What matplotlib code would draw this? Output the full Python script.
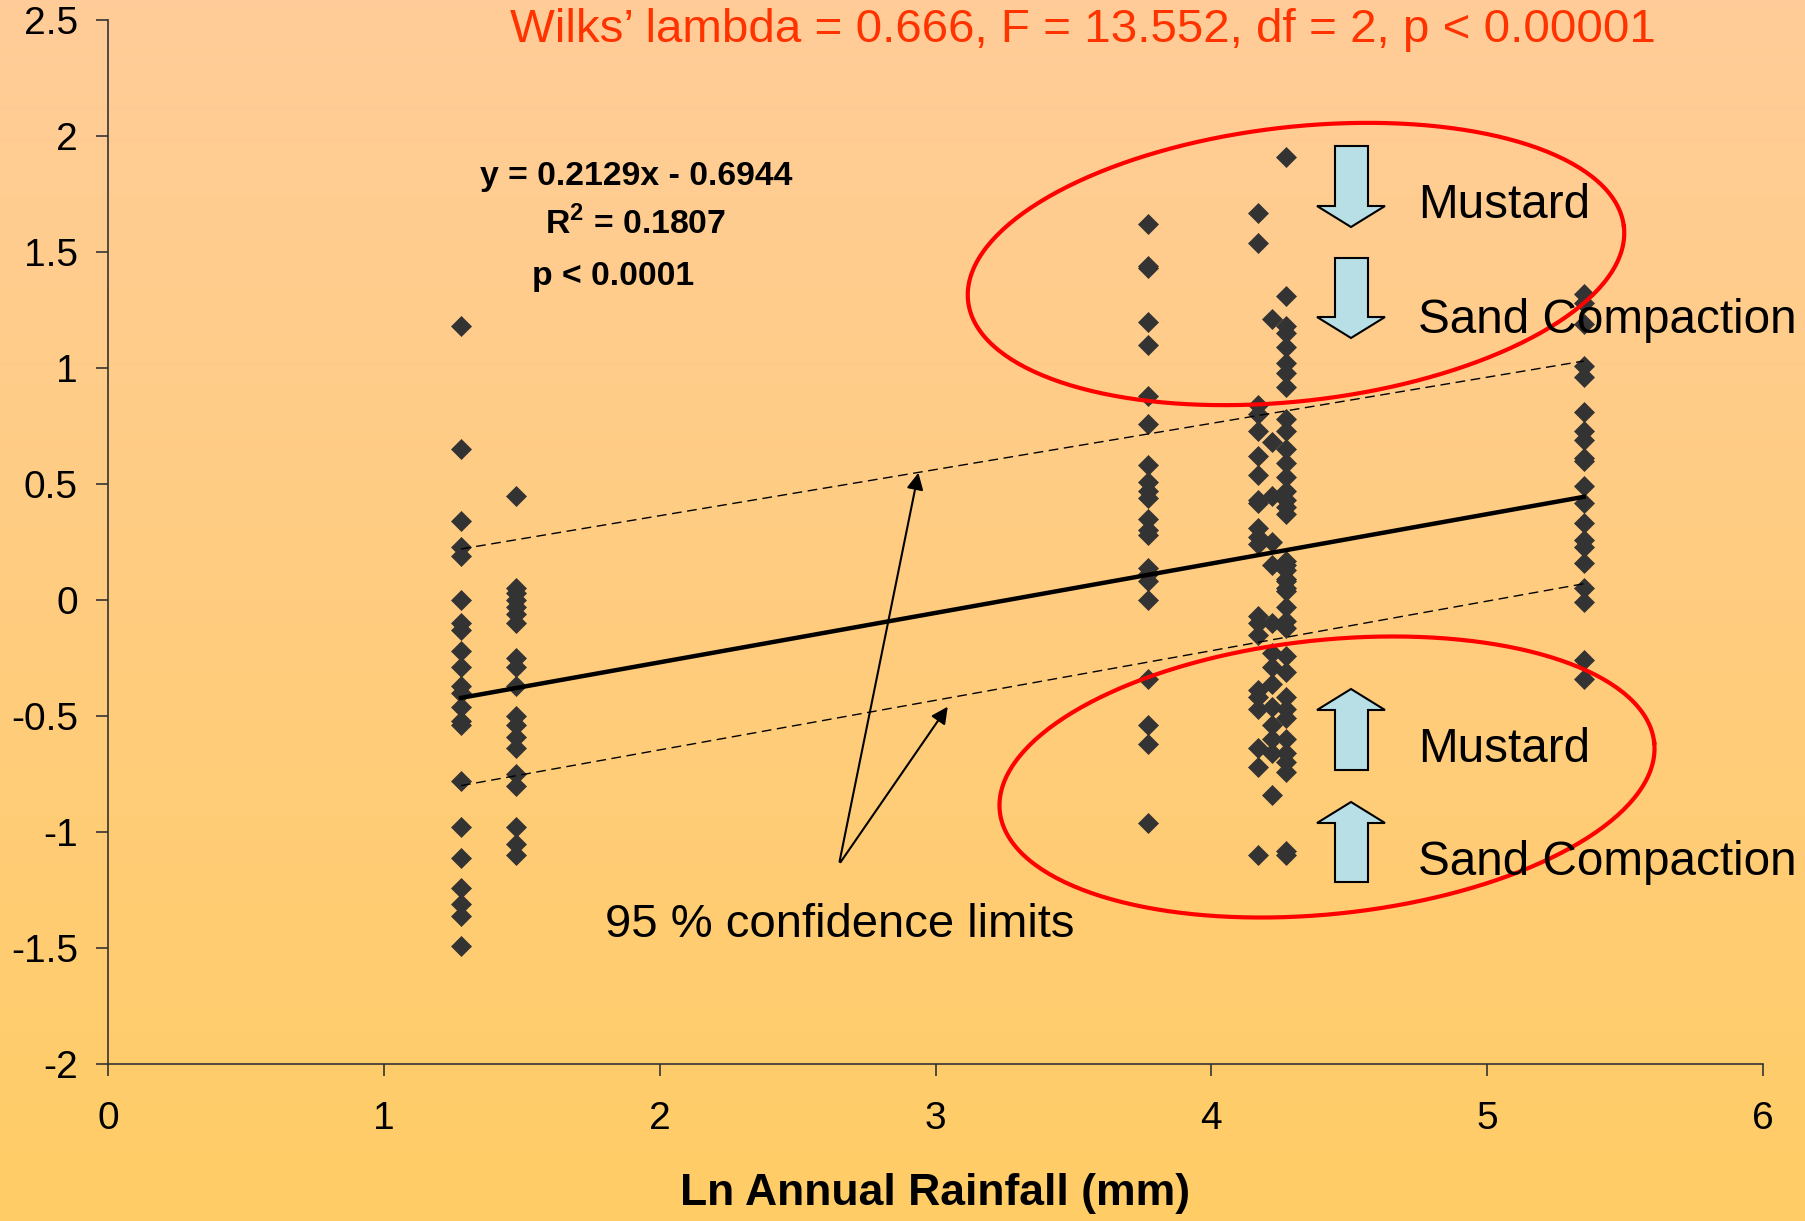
import numpy as np
import matplotlib
matplotlib.use('Agg')
import matplotlib.pyplot as plt
from matplotlib.patches import Polygon

plt.rcParams['font.family'] = ['Liberation Sans', 'DejaVu Sans']
plt.rcParams['mathtext.fontset'] = 'custom'
plt.rcParams['mathtext.rm'] = 'Liberation Sans'
plt.rcParams['mathtext.bf'] = 'Liberation Sans:bold'

# site x positions (ln annual rainfall) and the y values at each site
site_x = [1.28, 1.48, 3.77, 4.17, 4.22, 4.27, 5.35]
site_y = [
    [1.18, 0.65, 0.34, 0.23, 0.19, 0.00, -0.10, -0.13, -0.22, -0.29, -0.37, -0.40,
     -0.46, -0.52, -0.54, -0.78, -0.98, -1.11, -1.24, -1.31, -1.36, -1.49],
    [0.45, 0.05, 0.03, 0.00, -0.03, -0.06, -0.10, -0.25, -0.29, -0.37, -0.50, -0.54,
     -0.59, -0.64, -0.75, -0.80, -0.98, -1.05, -1.10],
    [1.62, 1.44, 1.43, 1.20, 1.10, 0.88, 0.76, 0.58, 0.51, 0.47, 0.44, 0.35, 0.30,
     0.28, 0.14, 0.11, 0.08, 0.00, -0.34, -0.54, -0.62, -0.96],
    [1.67, 1.54, 0.84, 0.80, 0.73, 0.62, 0.54, 0.43, 0.42, 0.31, 0.27, 0.24, -0.07,
     -0.10, -0.15, -0.39, -0.42, -0.47, -0.64, -0.72, -1.10],
    [1.21, 0.68, 0.45, 0.25, 0.15, -0.10, -0.23, -0.29, -0.36, -0.46, -0.54, -0.60,
     -0.66, -0.84],
    [1.91, 1.31, 1.18, 1.15, 1.09, 1.02, 0.98, 0.92, 0.78, 0.73, 0.65, 0.59, 0.53,
     0.47, 0.43, 0.40, 0.37, 0.17, 0.15, 0.13, 0.09, 0.08, 0.05, 0.04, -0.03, -0.09,
     -0.12, -0.24, -0.31, -0.42, -0.47, -0.51, -0.60, -0.66, -0.70, -0.74, -1.08, -1.10],
    [1.32, 1.28, 1.19, 1.01, 0.96, 0.81, 0.73, 0.69, 0.61, 0.60, 0.49, 0.42, 0.33,
     0.26, 0.23, 0.16, 0.05, -0.01, -0.26, -0.34],
]

# regression and 95 % limits (values at the smallest and largest x)
slope, intercept = 0.2129, -0.6944
ci_upper = [0.22, 1.03]
ci_lower = [-0.80, 0.07]

x_ticks = [0, 1, 2, 3, 4, 5, 6]
y_ticks = [-2, -1.5, -1, -0.5, 0, 0.5, 1, 1.5, 2, 2.5]
y_labels = ['-2', '-1.5', '-1', '-0.5', '0', '0.5', '1', '1.5', '2', '2.5']

W, H = 1806, 1221
fig = plt.figure(figsize=(W / 100, H / 100), dpi=100)

# gradient background
bg = fig.add_axes([0, 0, 1, 1], zorder=-10)
top = np.array([255, 204, 153]) / 255
bot = np.array([255, 204, 102]) / 255
t = np.linspace(0, 1, 256)[:, None]
grad = top[None, :] * (1 - t) + bot[None, :] * t
bg.imshow(grad[:, None, :], aspect='auto', extent=[0, 1, 0, 1])
bg.axis('off')

ax = fig.add_axes([108 / W, 157 / H, (1763 - 108) / W, (1201 - 157) / H])
ax.patch.set_alpha(0)

# scatter
xs = [x for x, ys in zip(site_x, site_y) for _ in ys]
ys = [y for col in site_y for y in col]
ax.plot(xs, ys, 'D', color='#333333', markersize=10, markeredgewidth=0.5,
        zorder=3, clip_on=False)

# regression line and limits
x_ends = np.array([min(site_x), max(site_x)])
ax.plot(x_ends, slope * x_ends + intercept, color='black', lw=3.2, zorder=4)
ax.plot(x_ends, ci_upper, color='black', lw=1, ls=(0, (7, 4)), zorder=4)
ax.plot(x_ends, ci_lower, color='black', lw=1, ls=(0, (7, 4)), zorder=4)

ax.set_xlim(0, 6)
ax.set_ylim(-2, 2.5)
ax.set_xticks(x_ticks)
ax.set_yticks(y_ticks)
ax.set_yticklabels(y_labels)
for s in ['top', 'right']:
    ax.spines[s].set_visible(False)
for s in ['left', 'bottom']:
    ax.spines[s].set_color('#333333')
    ax.spines[s].set_linewidth(1.2)
ax.tick_params(direction='out', length=8.6, width=1.2, color='#333333',
               labelsize=28)
ax.tick_params(axis='x', pad=18)
ax.tick_params(axis='y', pad=13)
ax.set_xlabel('Ln Annual Rainfall (mm)', fontsize=32, fontweight='bold', labelpad=26)


def fp(x, y):
    return (x / W, 1 - y / H)


# title and equation text
fig.text(*fp(1083, 42), 'Wilks\u2019 lambda = 0.666, F = 13.552, df = 2, p < 0.00001',
         color='#FF3300', fontsize=34.2, ha='center', va='baseline')
fig.text(*fp(636, 185), 'y = 0.2129x - 0.6944', fontsize=24.3, fontweight='bold',
         ha='center', va='baseline')
fig.text(*fp(636, 234), 'R$^{\\mathbf{2}}$ = 0.1807', fontsize=24.3, fontweight='bold',
         ha='center', va='baseline')
fig.text(*fp(613, 285), 'p < 0.0001', fontsize=24.3, fontweight='bold',
         ha='center', va='baseline')

# confidence limit callout
ax.annotate('', xy=(2.94, 0.56), xytext=(2.65, -1.14),
            arrowprops=dict(arrowstyle='-|>', color='black', lw=1.5,
                            mutation_scale=25), zorder=5)
ax.annotate('', xy=(3.05, -0.45), xytext=(2.65, -1.14),
            arrowprops=dict(arrowstyle='-|>', color='black', lw=1.5,
                            mutation_scale=25), zorder=5)
fig.text(*fp(840, 937), '95 % confidence limits', fontsize=34,
         ha='center', va='baseline')


# red ellipses
def ellipse(cx, cy, a, b, ang):
    tt = np.linspace(0, 2 * np.pi, 300)
    th = np.radians(ang)
    ex = cx + a * np.cos(tt) * np.cos(th) - b * np.sin(tt) * np.sin(th)
    ey = (H - cy) + a * np.cos(tt) * np.sin(th) + b * np.sin(tt) * np.cos(th)
    fig.add_artist(plt.Line2D(ex / W, ey / H, color='#FF0000', lw=3,
                              transform=fig.transFigure, zorder=6))


ellipse(1296, 264, 330, 137, 6.5)
ellipse(1327, 777, 329, 137, 6.0)


# block arrows
def block_arrow(top_y, bot_y, down):
    x0, x1, h0, h1 = 1335, 1368, 1317, 1385
    xm = (h0 + h1) / 2
    if down:
        hb = bot_y - 21
        pts = [(x0, top_y), (x1, top_y), (x1, hb), (h1, hb), (xm, bot_y),
               (h0, hb), (x0, hb)]
    else:
        hb = top_y + 21
        pts = [(xm, top_y), (h1, hb), (x1, hb), (x1, bot_y), (x0, bot_y),
               (x0, hb), (h0, hb)]
    fig.add_artist(Polygon([fp(x, y) for x, y in pts], closed=True,
                           facecolor='#B7DFE5', edgecolor='black', lw=1.5,
                           transform=fig.transFigure, zorder=7))


block_arrow(146, 227, True)
block_arrow(258, 338, True)
block_arrow(689, 770, False)
block_arrow(802, 882, False)

for yb, lab in [(218, 'Mustard'), (333, 'Sand Compaction'),
                (762, 'Mustard'), (875, 'Sand Compaction')]:
    fig.text(*fp(1418, yb), lab, fontsize=34.3, ha='left', va='baseline', zorder=8)

fig.savefig('out.png', dpi=100)
